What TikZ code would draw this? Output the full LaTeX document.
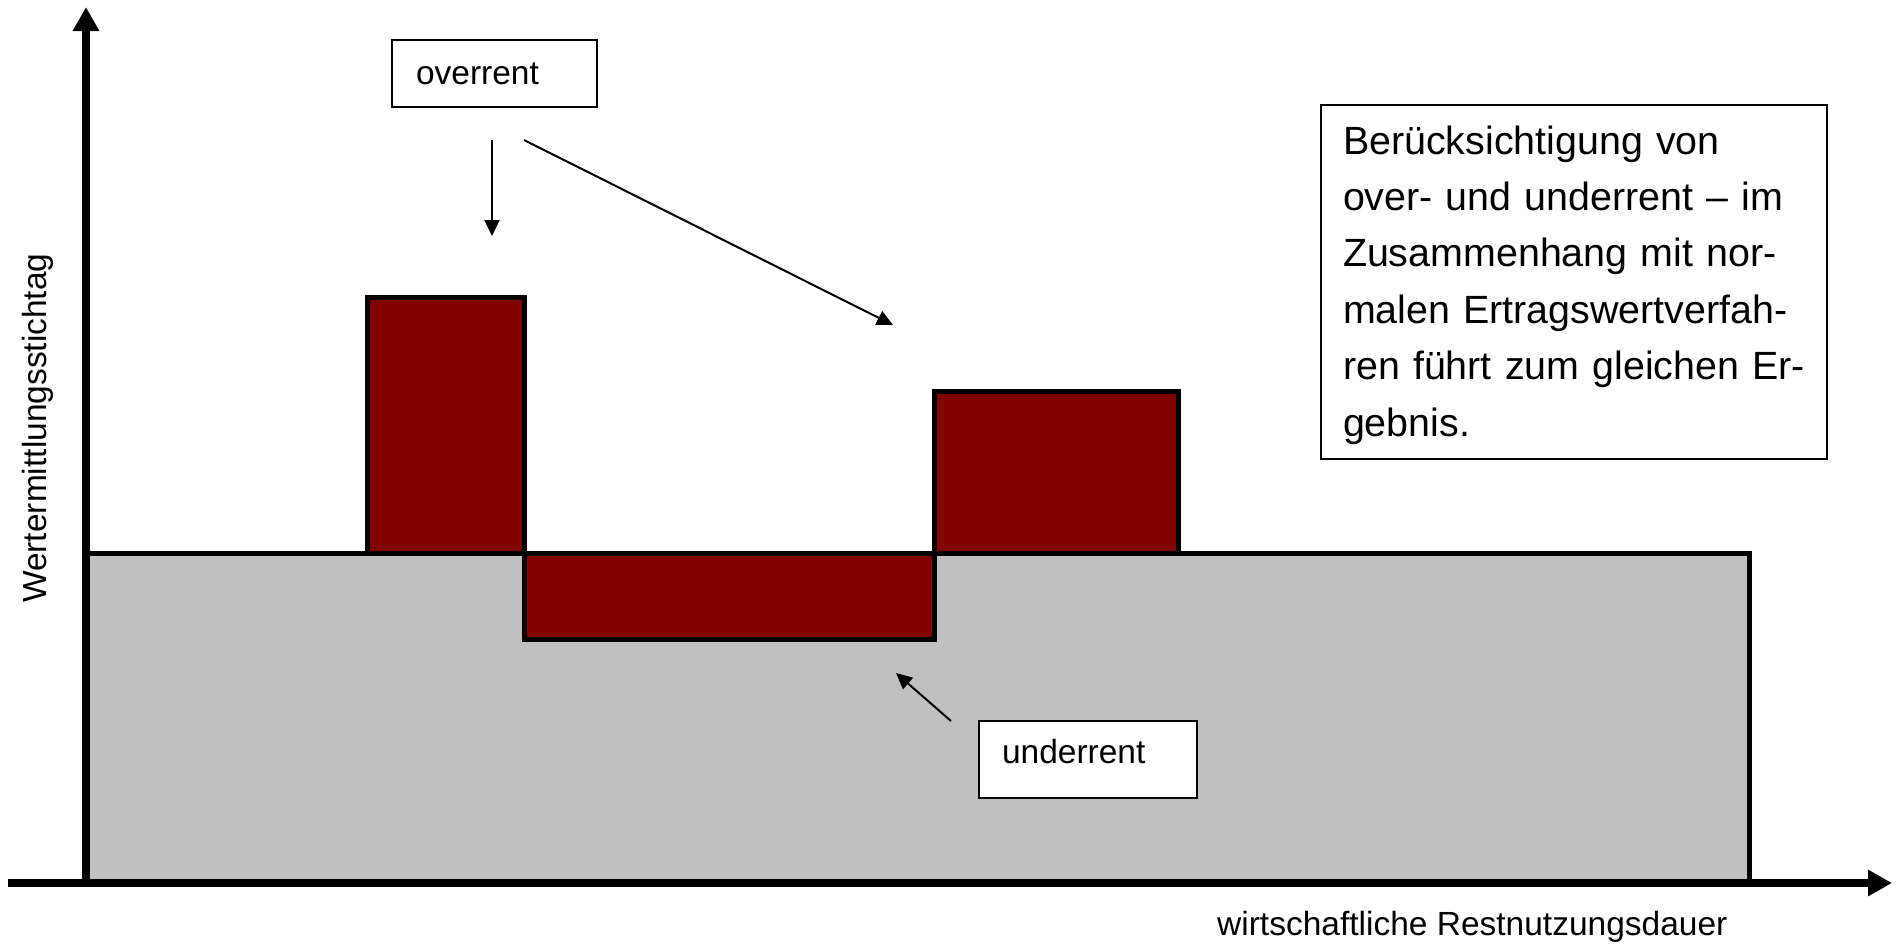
\documentclass[tikz,border=0pt]{standalone}
\usepackage{fontspec}
\setmainfont{Liberation Sans}
\usetikzlibrary{arrows.meta}
\definecolor{maroonred}{RGB}{128,0,0}
\definecolor{silvergray}{RGB}{192,192,192}
\begin{document}
\begin{tikzpicture}[x=1pt,y=-1pt,
  axis/.style={line width=8pt,-{Triangle[length=24pt,width=25pt]}},
  block/.style={draw=black,line width=5pt},
  pointer/.style={line width=2pt,-{Triangle[length=16pt,width=15pt]}},
  labelbox/.style={draw=black,line width=2pt,fill=white,inner ysep=0pt,align=left,anchor=north west,font=\fontsize{33.5}{40}\selectfont},
  axislabel/.style={inner sep=0pt,anchor=base west,font=\fontsize{33.5}{40}\selectfont},
]
\useasboundingbox (0,0) rectangle (1899,945);
% areas
\path[block,fill=silvergray] (86,553) rectangle (1749,883);
\path[block,fill=maroonred] (367,297) rectangle (524,553);
\path[block,fill=maroonred] (524,553) rectangle (934,639);
\path[block,fill=maroonred] (934,391) rectangle (1178,553);
% axes
\draw[axis] (8,883) -- (1892,883);
\draw[axis] (86,883) -- (86,7);
% axis labels
\node[axislabel] (xlab) at (1217,935) {wirtschaftliche Restnutzungsdauer};
\node[axislabel,rotate=90] (ylab) at (46,603) {Wertermittlungsstichtag};
% label boxes
\node[labelbox,inner xsep=24pt,text width=157pt,text height=44pt,text depth=23pt] (over) at (391,39) {overrent};
\node[labelbox,inner xsep=23pt,text width=172pt,text height=42pt,text depth=35pt] (under) at (978,720) {underrent};
\node[labelbox,inner xsep=22pt,text width=462pt,text height=49pt,text depth=305pt,font=\fontsize{39.4}{56.4}\selectfont] (note) at (1320,104)
  {\mbox{Berücksichtigung von}\\\mbox{over- und underrent – im}\\\mbox{Zusammenhang mit nor-}\\\mbox{malen Ertragswertverfah-}\\\mbox{ren führt zum gleichen Er-}\\\mbox{gebnis.}};
% pointers
\coordinate (o1) at (492,140);
\coordinate (o1t) at (492,236);
\coordinate (o2) at (524,140);
\coordinate (o2t) at (893,325);
\coordinate (u1) at (951,721);
\coordinate (u1t) at (896,673);
\draw[pointer] (o1) -- (o1t);
\draw[pointer] (o2) -- (o2t);
\draw[pointer] (u1) -- (u1t);
\end{tikzpicture}
\end{document}
